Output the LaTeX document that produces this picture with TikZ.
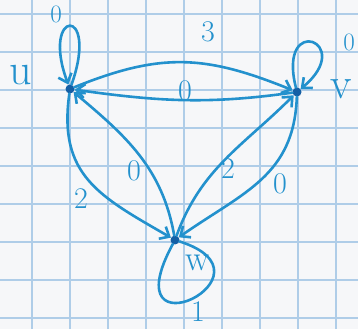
\documentclass[tikz,border=0pt]{standalone}
\usepackage{fontspec}
\usetikzlibrary{arrows.meta}
\definecolor{ink}{RGB}{35,145,205}
\definecolor{dotc}{RGB}{20,95,165}
\definecolor{gridc}{RGB}{175,205,232}
\definecolor{paper}{RGB}{246,247,249}
\begin{document}
\begin{tikzpicture}[x=1pt,y=1pt,
 vert/.style={circle,fill=dotc,inner sep=0pt,minimum size=9pt},
 edge/.style={draw=ink,line width=2.6pt,line cap=round,-{Straight Barb[length=8pt,width=14pt]}},
 loopedge/.style={draw=ink,line width=2.6pt,line cap=round},
 lab/.style={text=ink,inner sep=0pt,font=\fontsize{30}{30}\selectfont},
 slab/.style={text=ink,inner sep=0pt,font=\fontsize{25}{25}\selectfont},
 vlab/.style={text=ink,inner sep=0pt,text height=19pt,text depth=0pt,font=\fontsize{44}{44}\selectfont}]
\fill[paper] (0,0) rectangle (358,329);
\useasboundingbox (0,0) rectangle (358,329);
\foreach \x in {32,70,...,336} \draw[gridc,line width=1.2pt] (\x,0) -- (\x,329);
\foreach \y in {11,49,...,316} \draw[gridc,line width=1.2pt] (0,\y) -- (358,\y);
% vertices
\node[vert] (u) at (70,240) {};
\node[vert] (v) at (297,237) {};
\node[vert] (w) at (175,89) {};
% vertex names
\node[vlab] (un) at (21,254) {u};
\node[vlab] (vn) at (341,240) {v};
\node[vlab,text height=15pt,font=\fontsize{36}{36}\selectfont] (wn) at (198,66) {w};
% edges
\draw[edge] (u) to[out=22,in=158,looseness=1.1] (v);
\draw[edge] (v) to[out=188,in=-8] (u);
\draw[edge] (u) to[out=-98,in=150,looseness=1.2] (w);
\draw[edge] (w) to[out=100,in=-40] (u);
\draw[edge] (w) to[out=70,in=-135] (v);
\draw[edge] (v) to[out=-92,in=35,looseness=1.1] (w);
\draw[edge] (u) .. controls +(30,85) and +(-30,80) .. (u);
\draw[edge] (v) .. controls +(-20,80) and +(60,50) .. (v);
\draw[loopedge] (w) .. controls +(-65,-120) and +(110,-35) .. (w);
% weights
\node[slab] (lu) at (56,315) {0};
\node[lab] (l3) at (208,297) {3};
\node[slab] (lv) at (349,287) {0};
\node[lab] (lvu) at (185,238) {0};
\node[lab] (luw) at (81,130) {2};
\node[lab] (lwu) at (134,158) {0};
\node[lab] (lwv) at (228,160) {2};
\node[lab] (lvw) at (280,145) {0};
\node[lab] (lw) at (198,17) {1};
\end{tikzpicture}
\end{document}
